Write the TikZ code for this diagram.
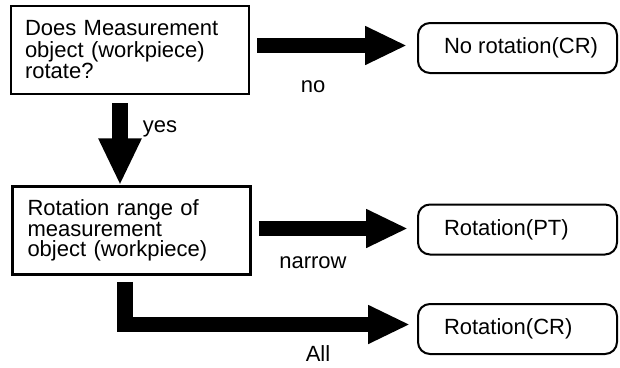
\documentclass[tikz,border=0pt]{standalone}
\usepackage{fontspec}
\setmainfont{Liberation Sans}
\usetikzlibrary{arrows.meta}
\begin{document}
\begin{tikzpicture}[x=1pt,y=-1pt,
  qbox/.style={draw, line width=2.5pt, rectangle, minimum width=238pt, minimum height=88pt,
    inner xsep=14pt, text width=210pt, align=left, font=\fontsize{22}{21.5}\selectfont},
  rbox/.style={draw, line width=2pt, rounded corners=12pt, minimum width=199pt, minimum height=50pt,
    inner xsep=26pt, font=\fontsize{22}{22}\selectfont},
  harrow/.style={line width=15pt, -{Triangle[length=42pt,width=36pt]}},
  varrow/.style={line width=16pt, -{Triangle[length=47pt,width=40pt]}},
  lbl/.style={anchor=base, font=\fontsize{22}{22}\selectfont, inner sep=0pt}
]
\useasboundingbox[fill=white] (0,0) rectangle (620,367);

\node[qbox] (q1) at (130,50) {Does Measurement\\object (workpiece)\\rotate?};
\node[qbox, font=\fontsize{22}{20.5}\selectfont, inner xsep=15pt, text width=208pt] (q2) at (131.5,230.5)
  {Rotation range of\\measurement\\object (workpiece)};

\node[rbox] (r1) at (517.5,48) {\makebox[147pt][l]{No rotation(CR)}};
\node[rbox] (r2) at (517.5,229.5) {\makebox[147pt][l]{Rotation(PT)}};
\node[rbox] (r3) at (517.5,329) {\makebox[147pt][l]{Rotation(CR)}};

% no
\draw[harrow] ([xshift=7pt,yshift=4.5pt]q1.east) -- ([xshift=-10pt,yshift=2.5pt]r1.west);
\node[lbl] (lno) at (313,92) {no};

% yes
\draw[varrow] ([xshift=-10pt,yshift=-8pt]q1.south) -- ([xshift=-11.5pt]q2.north);
\node[lbl] (lyes) at (160,132) {yes};

% narrow
\draw[harrow] ([xshift=7pt,yshift=2pt]q2.east) -- ([xshift=-9pt,yshift=1pt]r2.west);
\node[lbl] (lnarrow) at (313,268) {narrow};

% All
\draw[harrow, line width=15.5pt, line join=miter] ([xshift=-6.5pt,yshift=-6pt]q2.south) |- ([xshift=-7pt,yshift=4.5pt]r3.west);
\node[lbl] (lall) at (318,361) {All};
\end{tikzpicture}
\end{document}
